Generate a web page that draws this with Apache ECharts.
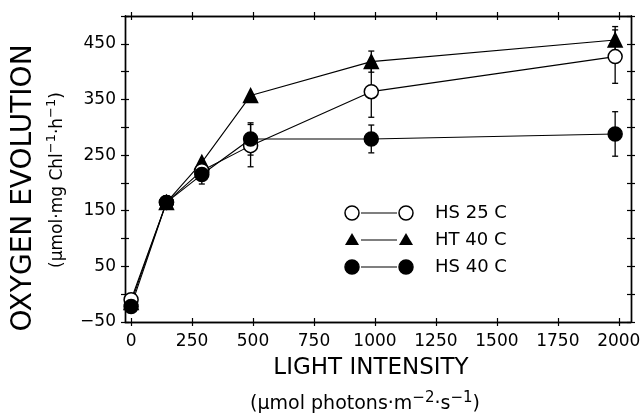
<!DOCTYPE html>
<html>
<head>
<meta charset="utf-8">
<script src="https://cdn.jsdelivr.net/npm/echarts@6/dist/echarts.min.js"></script>
<style>
  html, body { margin: 0; padding: 0; background: #fff; }
  #chart { width: 644px; height: 416px; }
</style>
</head>
<body>
<div id="chart"></div>
<script>
// light intensity (umol photons m-2 s-1)
var lightIntensity = [0, 145, 290, 490, 985, 1985];

// oxygen evolution, with error bar half-widths (0 = none drawn)
var hs25 = [-10, 165, 222, 267, 364, 427];
var hs25Err = [0, 0, 10, 38, 46, 48];
var ht40 = [-15, 165, 237, 357, 418, 457];
var ht40Err = [0, 0, 0, 0, 19, 24];
var hs40 = [-22, 165, 215, 279, 279, 288];
var hs40Err = [0, 0, 17, 29, 25, 40];

var xTicks = [0, 250, 500, 750, 1000, 1250, 1500, 1750, 2000];
var yLabels = [-50, 50, 150, 250, 350, 450];

var FONT = 'DejaVu Sans';

function pts(ys) {
  return lightIntensity.map(function (x, i) { return [x, ys[i]]; });
}
function errPts(ys, es) {
  return lightIntensity.map(function (x, i) { return [x, ys[i], es[i]]; });
}

var myChart = echarts.init(document.getElementById('chart'));

function xAx(pos, inside, labels) {
  return {
    type: 'value', position: pos, min: -25, max: 2050,
    axisLine: { show: true, onZero: false, lineStyle: { color: '#000', width: 1.4 } },
    axisTick: { show: true, inside: inside, length: 4, customValues: xTicks,
      lineStyle: { color: '#000', width: 1.2 } },
    axisLabel: { show: labels, customValues: xTicks, margin: 11,
      color: '#000', fontSize: 17, fontFamily: FONT,
      formatter: function (v) { return String(v); } },
    splitLine: { show: false }
  };
}
function yAx(pos, inside, labels) {
  return {
    type: 'value', position: pos, min: -50, max: 500, interval: 50,
    axisLine: { show: true, onZero: false, lineStyle: { color: '#000', width: 1.4 } },
    axisTick: { show: true, inside: inside, length: 4,
      lineStyle: { color: '#000', width: 1.2 } },
    axisLabel: { show: labels, customValues: yLabels, margin: 9,
      color: '#000', fontSize: 17, fontFamily: FONT,
      formatter: function (v) { return String(v).replace('-', '\u2212'); } },
    splitLine: { show: false }
  };
}

function errorBars(name, ys, es) {
  return {
    type: 'custom',
    name: name + ' err',
    z: 1,
    data: errPts(ys, es),
    renderItem: function (params, api) {
      var e = api.value(2);
      if (!e) return null;
      var x = api.value(0), y = api.value(1);
      var top = api.coord([x, y + e]);
      var bot = api.coord([x, y - e]);
      var c = 3;
      var st = { stroke: '#000', lineWidth: 1.3 };
      return {
        type: 'group',
        children: [
          { type: 'line', shape: { x1: top[0], y1: top[1], x2: bot[0], y2: bot[1] }, style: st },
          { type: 'line', shape: { x1: top[0] - c, y1: top[1], x2: top[0] + c, y2: top[1] }, style: st },
          { type: 'line', shape: { x1: bot[0] - c, y1: bot[1], x2: bot[0] + c, y2: bot[1] }, style: st }
        ]
      };
    }
  };
}

function lineSeries(name, ys, symbol, size, fill) {
  return {
    type: 'line',
    name: name,
    z: 3,
    data: pts(ys),
    symbol: symbol,
    symbolSize: size,
    showAllSymbol: true,
    lineStyle: { color: '#000', width: 1.1 },
    itemStyle: { color: fill, borderColor: '#000', borderWidth: 1.5, opacity: 1 },
    animation: false
  };
}

// legend drawn by hand: marker — marker  label
var legendRows = [
  { label: 'HS 25 C', kind: 'open', y: 213 },
  { label: 'HT 40 C', kind: 'tri', y: 240 },
  { label: 'HS 40 C', kind: 'dot', y: 267 }
];
function legendMarker(kind, cx, cy) {
  if (kind === 'tri') {
    return { type: 'polygon', shape: { points: [[cx, cy - 7], [cx + 7, cy + 5], [cx - 7, cy + 5]] },
      style: { fill: '#000' } };
  }
  return { type: 'circle', shape: { cx: cx, cy: cy, r: 7 },
    style: { fill: kind === 'open' ? '#fff' : '#000', stroke: '#000', lineWidth: 1.5 } };
}
var graphics = [];
legendRows.forEach(function (r) {
  graphics.push(legendMarker(r.kind, 352, r.y));
  graphics.push(legendMarker(r.kind, 406, r.y));
  graphics.push({ type: 'line', shape: { x1: 361, y1: r.y, x2: 397, y2: r.y },
    style: { stroke: '#000', lineWidth: 1.2 } });
  graphics.push({ type: 'text', x: 435, y: r.y,
    style: { text: r.label, fill: '#000', fontSize: 18, fontFamily: FONT,
      align: 'left', verticalAlign: 'middle' } });
});

// axis titles
graphics.push({ type: 'text', x: 24, y: 188, rotation: Math.PI / 2,
  style: { text: 'OXYGEN EVOLUTION', fill: '#000', fontSize: 28, fontFamily: FONT,
    align: 'center', verticalAlign: 'middle' } });
graphics.push({ type: 'text', x: 58, y: 180, rotation: Math.PI / 2,
  style: { text: '(\u03bcmol\u00b7mg Chl{s|\u22121}\u00b7h{s|\u22121})', fill: '#000',
    fontSize: 17, fontFamily: FONT, align: 'center', verticalAlign: 'middle',
    rich: { s: { fontSize: 13, fontFamily: FONT, padding: [0, 0, 12, 0], verticalAlign: 'bottom' } } } });
graphics.push({ type: 'text', x: 371, y: 368,
  style: { text: 'LIGHT INTENSITY', fill: '#000', fontSize: 23, fontFamily: FONT,
    align: 'center', verticalAlign: 'middle' } });
graphics.push({ type: 'text', x: 365, y: 404,
  style: { text: '(\u03bcmol photons\u00b7m{s|\u22122}\u00b7s{s|\u22121})', fill: '#000',
    fontSize: 19, fontFamily: FONT, align: 'center', verticalAlign: 'middle',
    rich: { s: { fontSize: 15, fontFamily: FONT, padding: [0, 0, 12, 0], verticalAlign: 'bottom' } } } });

var option = {
  animation: false,
  grid: { left: 125, right: 13, top: 16, bottom: 94 },
  xAxis: [
    xAx('bottom', false, true),
    xAx('bottom', true, false),
    xAx('top', false, false),
    xAx('top', true, false)
  ],
  yAxis: [
    yAx('left', false, true),
    yAx('left', true, false),
    yAx('right', false, false),
    yAx('right', true, false)
  ],
  series: [
    errorBars('HT 40 C', ht40, ht40Err),
    errorBars('HS 25 C', hs25, hs25Err),
    errorBars('HS 40 C', hs40, hs40Err),
    lineSeries('HT 40 C', ht40, 'triangle', 14, '#000'),
    lineSeries('HS 25 C', hs25, 'circle', 14, '#fff'),
    lineSeries('HS 40 C', hs40, 'circle', 14, '#000')
  ],
  graphic: graphics
};

myChart.setOption(option);
</script>
</body>
</html>
